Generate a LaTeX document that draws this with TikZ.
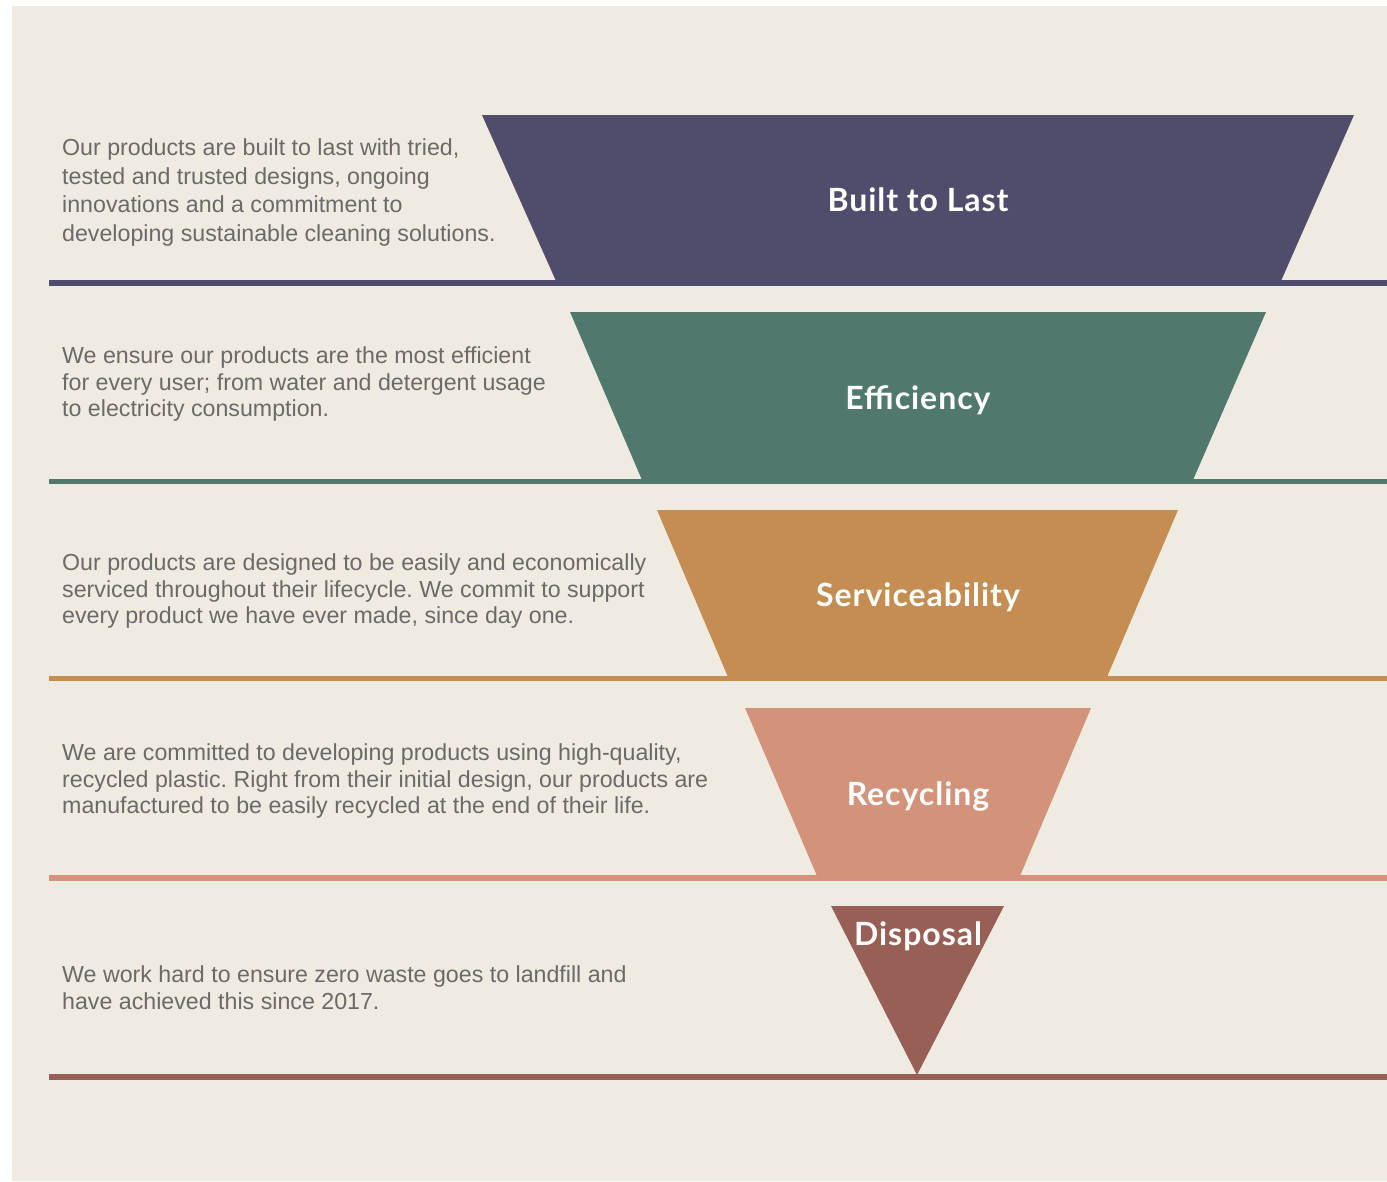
\documentclass[tikz,border=0pt]{standalone}
\usepackage{fontspec}
\setmainfont{Liberation Sans}
\newfontfamily\titlefont{Lato}[BoldFont={* Bold},LetterSpace=3]
\definecolor{bg}{HTML}{F0EBE1}
\definecolor{cA}{HTML}{4F4D6B}
\definecolor{cB}{HTML}{50786C}
\definecolor{cC}{HTML}{C58D52}
\definecolor{cD}{HTML}{D3937B}
\definecolor{cE}{HTML}{985F57}
\definecolor{txt}{HTML}{6A6A6A}
\frenchspacing
\begin{document}
\begin{tikzpicture}[x=1pt,y=-1pt,
  body/.style={anchor=west,align=left,text=txt,inner sep=0pt,font=\fontsize{23.2}{26.5}\selectfont},
  title/.style={anchor=base,text=white,inner sep=0pt,font=\titlefont\bfseries\fontsize{32}{36}\selectfont},
  rule/.style={line width=5.5pt}]
\useasboundingbox (0,0) rectangle (1387,1181);
\fill[white] (0,0) rectangle (1387,1181);
\fill[bg] (12,6) rectangle (1387,1181);
% band 1
\fill[cA] (482,115) -- (1354,115) -- (1281,281) -- (556,281) -- cycle;
\draw[rule,cA] (49,283) -- (1387,283);
\node[title] (t1) at (918,211) {Built to Last};
\node[body,font=\fontsize{23.2}{28.7}\selectfont] (b1) at (62,192.5) {Our products are built to last with tried,\\tested and trusted designs, ongoing\\innovations and a commitment to\\developing sustainable cleaning solutions.};
% band 2
\fill[cB] (570,312) -- (1266,312) -- (1193,480) -- (642,480) -- cycle;
\draw[rule,cB] (49,481.5) -- (1387,481.5);
\node[title] (t2) at (918,409.5) {Efficiency};
\node[body] (b2) at (62,384) {We ensure our products are the most efficient\\for every user; from water and detergent usage\\to electricity consumption.};
% band 3
\fill[cC] (657,510) -- (1178,510) -- (1107,677) -- (728,677) -- cycle;
\draw[rule,cC] (49,678.5) -- (1387,678.5);
\node[title] (t3) at (918,606.5) {Serviceability};
\node[body] (b3) at (62,591) {Our products are designed to be easily and economically\\serviced throughout their lifecycle. We commit to support\\every product we have ever made, since day one.};
% band 4
\fill[cD] (745,708) -- (1091,708) -- (1020,876) -- (817,876) -- cycle;
\draw[rule,cD] (49,878) -- (1387,878);
\node[title] (t4) at (918,805.5) {Recycling};
\node[body] (b4) at (62,781) {We are committed to developing products using high-quality,\\recycled plastic. Right from their initial design, our products are\\manufactured to be easily recycled at the end of their life.};
% band 5
\fill[cE] (831,906) -- (1004,906) -- (917,1075) -- cycle;
\draw[rule,cE] (49,1077) -- (1387,1077);
\node[title] (t5) at (918,945.5) {Disposal};
\node[body] (b5) at (62,987.5) {We work hard to ensure zero waste goes to landfill and\\have achieved this since 2017.};
\end{tikzpicture}
\end{document}
